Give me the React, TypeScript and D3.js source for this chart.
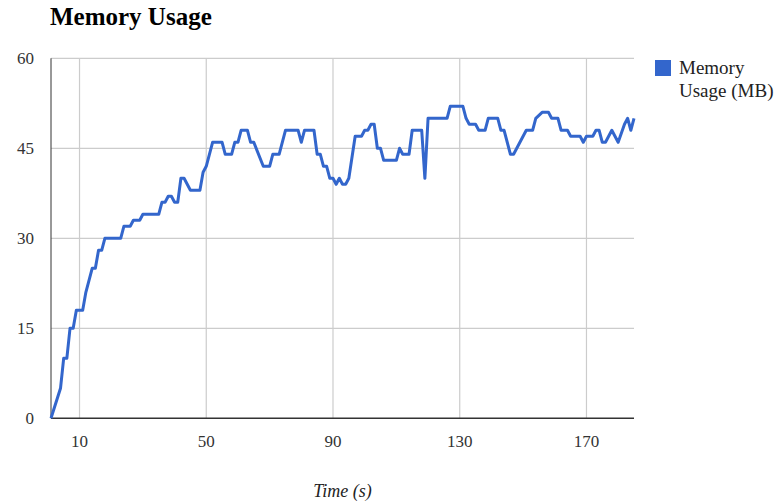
import React from "react";
import * as d3 from "d3";

const times = [1,4,5,6,7,8,9,11,12,14,15,16,17,18,23,24,26,27,29,30,35,36,37,38,39,40,41,42,43,45,48,49,50,52,55,56,58,59,60,61,63,64,65,68,70,71,73,75,79,80,81,84,85,86,87,88,89,90,91,92,93,94,95,97,99,100,101,102,103,104,105,106,110,111,112,114,115,118,119,120,126,127,131,132,133,135,136,138,139,142,143,144,146,147,151,153,154,156,158,159,161,162,164,165,167,168,169,170,172,173,174,175,176,178,180,182,183,184,185];
const memory = [0,5,10,10,15,15,18,18,21,25,25,28,28,30,30,32,32,33,33,34,34,36,36,37,37,36,36,40,40,38,38,41,42,46,46,44,44,46,46,48,48,46,46,42,42,44,44,48,48,46,48,48,44,44,42,42,40,40,39,40,39,39,40,47,47,48,48,49,49,45,45,43,43,45,44,44,48,48,40,50,50,52,52,50,49,49,48,48,50,50,48,48,44,44,48,48,50,51,51,50,50,48,48,47,47,47,46,47,47,48,48,46,46,48,46,49,50,48,50];
const xTicks = [10, 50, 90, 130, 170];
const yTicks = [0, 15, 30, 45, 60];
const title = "Memory Usage";
const seriesName = ["Memory", "Usage (MB)"];
const xTitle = "Time (s)";

export default function App() {
  const W = 776, H = 503;
  const left = 51, right = 634, top = 58.3, bottom = 418.3;
  const x = d3.scaleLinear().domain([1, 185]).range([left, right]);
  const y = d3.scaleLinear().domain([0, 60]).range([bottom, top]);
  const pts: [number, number][] = times.map((t, i) => [t, memory[i]]);
  const line = d3.line<[number, number]>().x(d => x(d[0])).y(d => y(d[1]));
  const font = "'Liberation Serif', 'Times New Roman', serif";
  return (
    <svg width={W} height={H} style={{ position: "absolute", left: 0, top: 0, background: "#fff" }} fontFamily={font}>
      <rect x={0} y={0} width={W} height={H} fill="#fff" />
      <text x={50} y={25} fontSize={25} fontWeight="bold" fill="#000">{title}</text>
      {yTicks.map(v => (
        <g key={"y" + v}>
          {v !== 0 && <line x1={left} x2={right} y1={y(v)} y2={y(v)} stroke="#cccccc" strokeWidth={1.2} />}
          <text x={34} y={y(v) + 6} textAnchor="end" fontSize={17} fill="#333">{v}</text>
        </g>
      ))}
      {xTicks.map(v => (
        <g key={"x" + v}>
          <line x1={x(v)} x2={x(v)} y1={top} y2={bottom} stroke="#cccccc" strokeWidth={1.2} />
          <text x={x(v)} y={447} textAnchor="middle" fontSize={17} fill="#333">{v}</text>
        </g>
      ))}
      <line x1={left} x2={left} y1={top} y2={bottom} stroke="#333" strokeWidth={1} />
      <line x1={left} x2={right} y1={bottom} y2={bottom} stroke="#333" strokeWidth={1.5} />
      <path d={line(pts) || ""} fill="none" stroke="#3366cc" strokeWidth={3} strokeLinejoin="round" />
      <text x={(left + right) / 2} y={497} textAnchor="middle" fontSize={18} fontStyle="italic" fill="#222">{xTitle}</text>
      <rect x={655} y={60} width={16} height={16} fill="#3366cc" />
      <text x={679} y={74} fontSize={19} fill="#222">{seriesName[0]}</text>
      <text x={679} y={97} fontSize={19} fill="#222">{seriesName[1]}</text>
    </svg>
  );
}
